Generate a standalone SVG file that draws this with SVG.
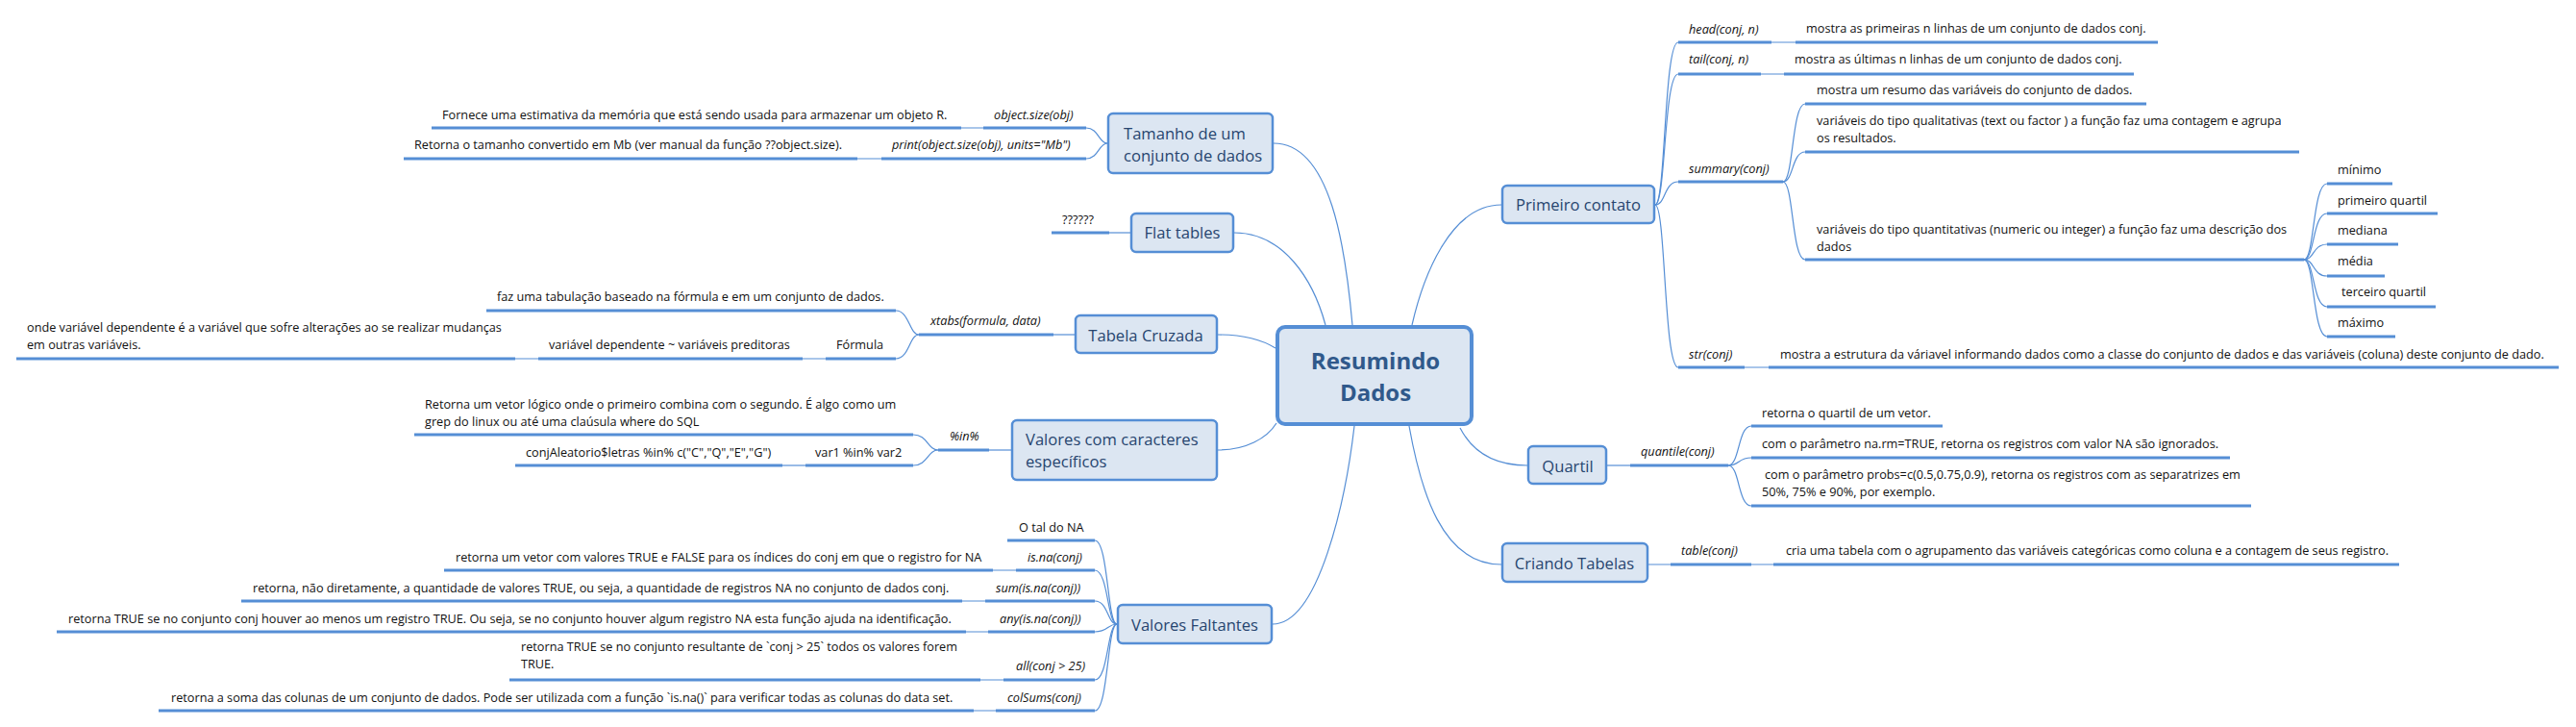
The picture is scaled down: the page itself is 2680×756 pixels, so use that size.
<svg xmlns="http://www.w3.org/2000/svg" width="2680" height="756" viewBox="0 0 2680 756">
<style>
.bar{stroke:#558ed5;stroke-width:3;fill:none}
.ln{stroke:#558ed5;stroke-width:1.2;fill:none}
.node rect{fill:#dce6f2;stroke:#558ed5;stroke-width:2.5}
.nt{font-family:"Open Sans","Noto Sans",sans-serif;font-size:16.6px;fill:#27456f}
.t{font-family:"Open Sans","Noto Sans",sans-serif;font-size:12.7px;fill:#111}
.i{font-style:italic}
.c{text-anchor:middle}
</style>
<rect width="2680" height="756" fill="#fff"/>

<g id="connectors">
<path class="ln" d="M1325,149 C1385,149 1400,260 1407,338"/>
<path class="ln" d="M1284,242 C1335,242 1366,290 1379,338"/>
<path class="ln" d="M1267,348 C1295,348 1314,354 1327,362"/>
<path class="ln" d="M1267,468 C1296,468 1318,456 1328,440"/>
<path class="ln" d="M1324,649 C1372,649 1400,520 1409,443"/>
<path class="ln" d="M1562,213 C1508,213 1480,290 1469,338"/>
<path class="ln" d="M1589,484 C1555,484 1532,470 1519,445"/>
<path class="ln" d="M1562,587 C1500,587 1478,510 1466,443"/>
<path class="ln" d="M1152,149 C1143,149 1143,133 1130,133"/>
<path class="ln" d="M1152,149 C1143,149 1143,165 1130,165"/>
<path class="ln" d="M1000,133 H1023 M892,165 H917"/>
<path class="ln" d="M1154,242 H1176"/>
<path class="ln" d="M1096,348 H1118"/>
<path class="ln" d="M956,348 C946,348 946,323 932,323"/>
<path class="ln" d="M956,348 C946,348 946,373 932,373"/>
<path class="ln" d="M835,373 H859 M536,373 H560"/>
<path class="ln" d="M1029,468 H1052"/>
<path class="ln" d="M976,468 C965,468 965,452 950,452"/>
<path class="ln" d="M976,468 C965,468 965,484 950,484"/>
<path class="ln" d="M814,484 H838"/>
<path class="ln" d="M1162,649 C1152,649 1153,562 1139,562"/>
<path class="ln" d="M1162,649 C1152,649 1153,593 1139,593"/>
<path class="ln" d="M1162,649 C1152,649 1153,625 1139,625"/>
<path class="ln" d="M1162,649 C1152,649 1153,657 1139,657"/>
<path class="ln" d="M1162,649 C1152,649 1153,707 1139,707"/>
<path class="ln" d="M1162,649 C1152,649 1153,739 1139,739"/>
<path class="ln" d="M1033,593 H1057 M1001,625 H1025 M1005,657 H1028 M1020,707 H1044 M1013,739 H1036"/>
<path class="ln" d="M1722,213 C1733,213 1731,44 1746,44"/>
<path class="ln" d="M1722,213 C1733,213 1731,77 1746,77"/>
<path class="ln" d="M1722,213 C1733,213 1731,189 1746,189"/>
<path class="ln" d="M1722,213 C1733,213 1731,382 1746,382"/>
<path class="ln" d="M1843,44 H1868 M1832,77 H1856 M1815,382 H1840"/>
<path class="ln" d="M1855,189 C1866,189 1864,108 1878,108"/>
<path class="ln" d="M1855,189 C1866,189 1864,158 1878,158"/>
<path class="ln" d="M1855,189 C1866,189 1864,270 1878,270"/>
<path class="ln" d="M2397,270 C2408,270 2406,191 2421,191"/>
<path class="ln" d="M2397,270 C2408,270 2406,222 2421,222"/>
<path class="ln" d="M2397,270 C2408,270 2406,254 2421,254"/>
<path class="ln" d="M2397,270 C2408,270 2406,287 2421,287"/>
<path class="ln" d="M2397,270 C2408,270 2406,319 2421,319"/>
<path class="ln" d="M2397,270 C2408,270 2406,350 2421,350"/>
<path class="ln" d="M1672,484 H1696"/>
<path class="ln" d="M1798,484 C1810,484 1808,443 1822,443"/>
<path class="ln" d="M1798,484 C1810,484 1808,476 1822,476"/>
<path class="ln" d="M1798,484 C1810,484 1808,526 1822,526"/>
<path class="ln" d="M1715,587 H1738 M1822,587 H1845"/>
</g>

<g id="central" class="node">
<rect x="1329" y="340" width="202" height="101" rx="8" style="stroke-width:4"/>
<text x="1431" y="384" class="c" style="font-family:'Open Sans','Noto Sans',sans-serif;font-size:24px;font-weight:bold;fill:#30598b">Resumindo</text>
<text x="1431" y="417" class="c" style="font-family:'Open Sans','Noto Sans',sans-serif;font-size:24px;font-weight:bold;fill:#30598b">Dados</text>
</g>

<g id="tamanho" class="node">
<rect x="1153" y="118" width="171" height="62" rx="5"/>
<text class="nt" x="1169" y="145">Tamanho de um</text>
<text class="nt" x="1169" y="168">conjunto de dados</text>
<path class="bar" d="M1023,133 H1130"/>
<text class="t i" x="1034" y="124">object.size(obj)</text>
<path class="bar" d="M449,133 H1000"/>
<text class="t" x="460" y="124">Fornece uma estimativa da memória que está sendo usada para armazenar um objeto R.</text>
<path class="bar" d="M917,165 H1130"/>
<text class="t i" x="928" y="155">print(object.size(obj), units="Mb")</text>
<path class="bar" d="M420,165 H892"/>
<text class="t" x="431" y="155">Retorna o tamanho convertido em Mb (ver manual da função ??object.size).</text>
</g>

<g id="flat" class="node">
<rect x="1177" y="222" width="106" height="40" rx="5"/>
<text class="nt c" x="1230" y="248">Flat tables</text>
<path class="bar" d="M1094,242 H1154"/>
<text class="t" x="1105" y="233">??????</text>
</g>

<g id="tabela" class="node">
<rect x="1119" y="328" width="147" height="39" rx="5"/>
<text class="nt c" x="1192" y="355">Tabela Cruzada</text>
<path class="bar" d="M956,348 H1096"/>
<text class="t i" x="968" y="338">xtabs(formula, data)</text>
<path class="bar" d="M506,323 H932"/>
<text class="t" x="517" y="313">faz uma tabulação baseado na fórmula e em um conjunto de dados.</text>
<path class="bar" d="M859,373 H932"/>
<text class="t" x="870" y="363">Fórmula</text>
<path class="bar" d="M560,373 H835"/>
<text class="t" x="571" y="363">variável dependente ~ variáveis preditoras</text>
<path class="bar" d="M17,373 H536"/>
<text class="t" x="28" y="345">onde variável dependente é a variável que sofre alterações ao se realizar mudanças</text>
<text class="t" x="28" y="363">em outras variáveis.</text>
</g>

<g id="caracteres" class="node">
<rect x="1053" y="437" width="213" height="62" rx="5"/>
<text class="nt" x="1067" y="463">Valores com caracteres</text>
<text class="nt" x="1067" y="486">específicos</text>
<path class="bar" d="M976,468 H1029"/>
<text class="t i" x="988" y="458">%in%</text>
<path class="bar" d="M431,452 H950"/>
<text class="t" x="442" y="425">Retorna um vetor lógico onde o primeiro combina com o segundo. É algo como um</text>
<text class="t" x="442" y="443">grep do linux ou até uma claúsula where do SQL</text>
<path class="bar" d="M838,484 H950"/>
<text class="t" x="848" y="475">var1 %in% var2</text>
<path class="bar" d="M536,484 H814"/>
<text class="t" x="547" y="475">conjAleatorio$letras %in% c("C","Q","E","G")</text>
</g>

<g id="faltantes" class="node">
<rect x="1163" y="629" width="160" height="40" rx="5"/>
<text class="nt c" x="1243" y="656">Valores Faltantes</text>
<path class="bar" d="M1048,562 H1139"/>
<text class="t" x="1060" y="553">O tal do NA</text>
<path class="bar" d="M1057,593 H1139"/>
<text class="t i" x="1069" y="584">is.na(conj)</text>
<path class="bar" d="M462,593 H1033"/>
<text class="t" x="474" y="584">retorna um vetor com valores TRUE e FALSE para os índices do conj em que o registro for NA</text>
<path class="bar" d="M1025,625 H1139"/>
<text class="t i" x="1036" y="616">sum(is.na(conj))</text>
<path class="bar" d="M251,625 H1001"/>
<text class="t" x="263" y="616">retorna, não diretamente, a quantidade de valores TRUE, ou seja, a quantidade de registros NA no conjunto de dados conj.</text>
<path class="bar" d="M1028,657 H1139"/>
<text class="t i" x="1040" y="648">any(is.na(conj))</text>
<path class="bar" d="M59,657 H1005"/>
<text class="t" x="71" y="648">retorna TRUE se no conjunto conj houver ao menos um registro TRUE. Ou seja, se no conjunto houver algum registro NA esta função ajuda na identificação.</text>
<path class="bar" d="M1044,707 H1139"/>
<text class="t i" x="1057" y="697">all(conj &gt; 25)</text>
<path class="bar" d="M530,707 H1020"/>
<text class="t" x="542" y="677">retorna TRUE se no conjunto resultante de `conj &gt; 25` todos os valores forem</text>
<text class="t" x="542" y="695">TRUE.</text>
<path class="bar" d="M1036,739 H1139"/>
<text class="t i" x="1048" y="730">colSums(conj)</text>
<path class="bar" d="M165,739 H1013"/>
<text class="t" x="178" y="730">retorna a soma das colunas de um conjunto de dados. Pode ser utilizada com a função `is.na()` para verificar todas as colunas do data set.</text>
</g>

<g id="primeiro" class="node">
<rect x="1563" y="193" width="158" height="39" rx="5"/>
<text class="nt c" x="1642" y="219">Primeiro contato</text>
<path class="bar" d="M1746,44 H1843"/>
<text class="t i" x="1757" y="35">head(conj, n)</text>
<path class="bar" d="M1868,44 H2245"/>
<text class="t" x="1879" y="34">mostra as primeiras n linhas de um conjunto de dados conj.</text>
<path class="bar" d="M1746,77 H1832"/>
<text class="t i" x="1757" y="66">tail(conj, n)</text>
<path class="bar" d="M1856,77 H2220"/>
<text class="t" x="1867" y="66">mostra as últimas n linhas de um conjunto de dados conj.</text>
<path class="bar" d="M1746,189 H1855"/>
<text class="t i" x="1757" y="180">summary(conj)</text>
<path class="bar" d="M1878,108 H2233"/>
<text class="t" x="1890" y="98">mostra um resumo das variáveis do conjunto de dados.</text>
<path class="bar" d="M1878,158 H2392"/>
<text class="t" x="1890" y="130">variáveis do tipo qualitativas (text ou factor ) a função faz uma contagem e agrupa</text>
<text class="t" x="1890" y="148">os resultados.</text>
<path class="bar" d="M1878,270 H2397"/>
<text class="t" x="1890" y="243">variáveis do tipo quantitativas (numeric ou integer) a função faz uma descrição dos</text>
<text class="t" x="1890" y="261">dados</text>
<path class="bar" d="M2421,191 H2489"/>
<text class="t" x="2432" y="181">mínimo</text>
<path class="bar" d="M2421,222 H2536"/>
<text class="t" x="2432" y="213">primeiro quartil</text>
<path class="bar" d="M2421,254 H2495"/>
<text class="t" x="2432" y="244">mediana</text>
<path class="bar" d="M2421,287 H2481"/>
<text class="t" x="2432" y="276">média</text>
<path class="bar" d="M2421,319 H2534"/>
<text class="t" x="2436" y="308">terceiro quartil</text>
<path class="bar" d="M2421,350 H2492"/>
<text class="t" x="2432" y="340">máximo</text>
<path class="bar" d="M1746,382 H1815"/>
<text class="t i" x="1757" y="373">str(conj)</text>
<path class="bar" d="M1840,382 H2662"/>
<text class="t" x="1852" y="373">mostra a estrutura da váriavel informando dados como a classe do conjunto de dados e das variáveis (coluna) deste conjunto de dado.</text>
</g>

<g id="quartil" class="node">
<rect x="1590" y="464" width="81" height="39" rx="5"/>
<text class="nt c" x="1631" y="491">Quartil</text>
<path class="bar" d="M1696,484 H1798"/>
<text class="t i" x="1707" y="474">quantile(conj)</text>
<path class="bar" d="M1822,443 H2021"/>
<text class="t" x="1833" y="434">retorna o quartil de um vetor.</text>
<path class="bar" d="M1822,476 H2320"/>
<text class="t" x="1833" y="466">com o parâmetro na.rm=TRUE, retorna os registros com valor NA são ignorados.</text>
<path class="bar" d="M1822,526 H2342"/>
<text class="t" x="1836" y="498">com o parâmetro probs=c(0.5,0.75,0.9), retorna os registros com as separatrizes em</text>
<text class="t" x="1833" y="516">50%, 75% e 90%, por exemplo.</text>
</g>

<g id="criando" class="node">
<rect x="1563" y="565" width="151" height="40" rx="5"/>
<text class="nt c" x="1638" y="592">Criando Tabelas</text>
<path class="bar" d="M1738,587 H1822"/>
<text class="t i" x="1749" y="577">table(conj)</text>
<path class="bar" d="M1845,587 H2496"/>
<text class="t" x="1858" y="577">cria uma tabela com o agrupamento das variáveis categóricas como coluna e a contagem de seus registro.</text>
</g>
</svg>
